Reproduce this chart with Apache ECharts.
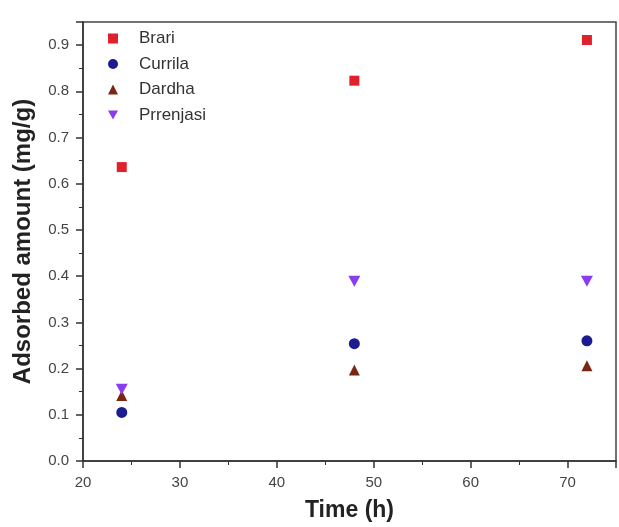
<!DOCTYPE html>
<html>
<head>
<meta charset="utf-8">
<script src="https://cdn.jsdelivr.net/npm/echarts@6/dist/echarts.min.js"></script>
<style>html,body{margin:0;padding:0;background:#fff}#c{width:619px;height:527px}</style>
</head>
<body>
<div id="c"></div>
<script>
const times = [24, 48, 72];
const brari = [0.636, 0.823, 0.911];
const currila = [0.105, 0.254, 0.260];
const dardha = [0.142, 0.197, 0.206];
const prrenjasi = [0.155, 0.389, 0.389];
const seriesNames = ['Brari', 'Currila', 'Dardha', 'Prrenjasi'];

const pairs = v => times.map((t, i) => [t, v[i]]);
const chart = echarts.init(document.getElementById('c'));
const font = '"Liberation Sans", Arial, sans-serif';
const downTri = 'path://M0,0 L10,0 L5,9 Z';
chart.setOption({
  animation: false,
  textStyle: {fontFamily: font},
  grid: {left: 83, right: 3, top: 22, bottom: 66, containLabel: false, outerBoundsMode: 'none',
         show: true, borderColor: '#444', borderWidth: 1.5},
  legend: {
    orient: 'vertical', left: 103, top: 25, itemGap: 8.5, itemWidth: 10, itemHeight: 10,
    textStyle: {fontSize: 17, color: '#333', fontFamily: font, padding: [0, 0, 0, 16]},
    data: seriesNames
  },
  xAxis: {
    type: 'value', min: 20, max: 75, interval: 10,
    name: 'Time (h)', nameLocation: 'middle', nameGap: 38,
    nameTextStyle: {fontSize: 23, fontWeight: 'bold', color: '#222'},
    axisLine: {lineStyle: {color: '#333', width: 1.5}},
    axisTick: {inside: false, length: 7, lineStyle: {color: '#333', width: 1.5}},
    minorTick: {show: true, splitNumber: 2, length: 4, lineStyle: {color: '#333'}},
    axisLabel: {fontSize: 15, color: '#444', showMaxLabel: false, margin: 14},
    splitLine: {show: false}
  },
  yAxis: {
    type: 'value', min: 0, max: 0.95, interval: 0.1,
    name: 'Adsorbed amount (mg/g)', nameLocation: 'middle', nameGap: 48,
    nameTextStyle: {fontSize: 24, fontWeight: 'bold', color: '#222'},
    axisLine: {lineStyle: {color: '#333', width: 1.5}},
    axisTick: {inside: false, length: 7, lineStyle: {color: '#333', width: 1.5}},
    minorTick: {show: true, splitNumber: 2, length: 4, lineStyle: {color: '#333'}},
    axisLabel: {fontSize: 15, color: '#444', showMaxLabel: false, margin: 14, formatter: v => v.toFixed(1)},
    splitLine: {show: false}
  },
  series: [
    {name: seriesNames[0], type: 'scatter', data: pairs(brari), symbol: 'rect', symbolSize: 10, itemStyle: {color: '#e0202a', opacity: 1}},
    {name: seriesNames[1], type: 'scatter', data: pairs(currila), symbol: 'circle', symbolSize: 11, itemStyle: {color: '#1c1c90', opacity: 1}},
    {name: seriesNames[2], type: 'scatter', data: pairs(dardha), symbol: 'triangle', symbolSize: 11, itemStyle: {color: '#7a2614', opacity: 1}},
    {name: seriesNames[3], type: 'scatter', data: pairs(prrenjasi), symbol: downTri, symbolSize: [12, 11], itemStyle: {color: '#8a3cf0', opacity: 1}}
  ]
});
</script>
</body>
</html>
